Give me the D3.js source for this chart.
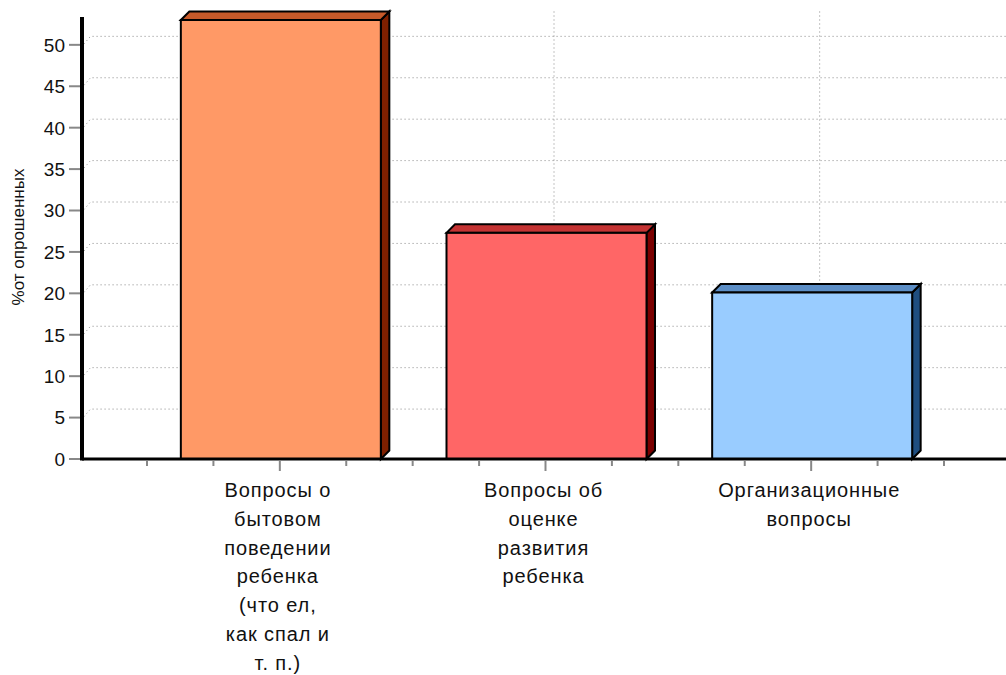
<!DOCTYPE html>
<html><head><meta charset="utf-8">
<script src="https://cdn.jsdelivr.net/npm/d3@7"></script>
<style>html,body{margin:0;padding:0;background:#fff;}</style>
</head><body>
<svg id="c" width="1006" height="675"></svg>
<script>
const categories = ["Вопросы о бытовом поведении ребенка (что ел, как спал и т. п.)", "Вопросы об оценке развития ребенка", "Организационные вопросы"];
const categoryLines = [
  ["Вопросы о", "бытовом", "поведении", "ребенка", "(что ел,", "как спал и", "т. п.)"],
  ["Вопросы об", "оценке", "развития", "ребенка"],
  ["Организационные", "вопросы"]
];
const values = [53, 27.3, 20.1];
const yTicks = [0, 5, 10, 15, 20, 25, 30, 35, 40, 45, 50];
const yLabel = "%от опрошенных";
const frontColors = ["#FF9966", "#FF6666", "#99CCFF"];
const topColors = ["#C75A2A", "#C43333", "#5C8EC6"];
const sideColors = ["#7F2000", "#7A0000", "#1F4E80"];

const svg = d3.select("#c");
const dx = 8.5, dy = 8.5;
const y = d3.scaleLinear().domain([0, 53]).range([459, 20]);
const x = d3.scaleBand().domain(categories).range([147, 944]).padding(0);
const bw = x.bandwidth();
const barW = 200;

// gridlines (back wall)
const grid = svg.append("g").attr("fill", "none").attr("stroke", "#888").attr("stroke-width", 1).attr("stroke-dasharray", "1,3");
yTicks.filter(t => t > 0).forEach(t => {
  const yy = y(t);
  grid.append("path").attr("d", `M84,${yy - 1} L${82 + dx},${yy - dy} L1006,${yy - dy}`);
});
categories.forEach(c => {
  const cx = x(c) + bw / 2 + dx;
  grid.append("line").attr("x1", cx).attr("x2", cx).attr("y1", y(53) - dy).attr("y2", y(0) - dy);
});

// bars
categories.forEach((c, i) => {
  const x0 = x(c) + (bw - barW) / 2 + 1, x1 = x0 + barW;
  const yt = y(values[i]), yb = y(0);
  const g = svg.append("g").attr("stroke", "#000").attr("stroke-width", 2).attr("stroke-linejoin", "miter");
  g.append("path").attr("fill", sideColors[i])
    .attr("d", `M${x1},${yt} L${x1 + dx},${yt - dy} L${x1 + dx},${yb - dy} L${x1},${yb} Z`);
  g.append("path").attr("fill", topColors[i])
    .attr("d", `M${x0},${yt} L${x0 + dx},${yt - dy} L${x1 + dx},${yt - dy} L${x1},${yt} Z`);
  g.append("rect").attr("fill", frontColors[i]).attr("x", x0).attr("y", yt).attr("width", barW).attr("height", yb - yt);
});

// y axis ticks and labels
const ya = svg.append("g");
yTicks.forEach(t => {
  ya.append("line").attr("x1", 69).attr("x2", 82).attr("y1", y(t)).attr("y2", y(t)).attr("stroke", "#888").attr("stroke-width", 2);
  ya.append("text").attr("x", 65).attr("y", y(t)).attr("dy", "0.36em").attr("text-anchor", "end")
    .attr("font-family", "Liberation Sans, Arial, sans-serif").attr("font-size", 19).attr("fill", "#111").text(t);
});

// x axis ticks
const xa = svg.append("g").attr("stroke", "#888").attr("stroke-width", 2);
categories.forEach(c => {
  for (let k = 0; k < 4; k++) {
    const tx = x(c) + k * bw / 4;
    xa.append("line").attr("x1", tx).attr("x2", tx).attr("y1", 461).attr("y2", k === 2 ? 471 : 466);
  }
});
xa.append("line").attr("x1", x.range()[1]).attr("x2", x.range()[1]).attr("y1", 461).attr("y2", 466);

// axis lines
svg.append("line").attr("x1", 82).attr("x2", 1006).attr("y1", 459).attr("y2", 459).attr("stroke", "#000").attr("stroke-width", 3);
svg.append("line").attr("x1", 82).attr("x2", 82).attr("y1", 17).attr("y2", 460.5).attr("stroke", "#000").attr("stroke-width", 4);

// category labels
categories.forEach((c, i) => {
  const t = svg.append("text").attr("text-anchor", "middle")
    .attr("font-family", "Liberation Sans, Arial, sans-serif").attr("font-size", 20).attr("letter-spacing", 0.9).attr("fill", "#111");
  categoryLines[i].forEach((ln, j) => {
    t.append("tspan").attr("x", x(c) + bw / 2 - 2).attr("y", 497 + j * 28.8).text(ln);
  });
});

// y label
svg.append("text").attr("transform", "translate(24,237) rotate(-90)").attr("text-anchor", "middle")
  .attr("font-family", "Liberation Sans, Arial, sans-serif").attr("font-size", 17).attr("fill", "#111").text(yLabel);
</script>
</body></html>
